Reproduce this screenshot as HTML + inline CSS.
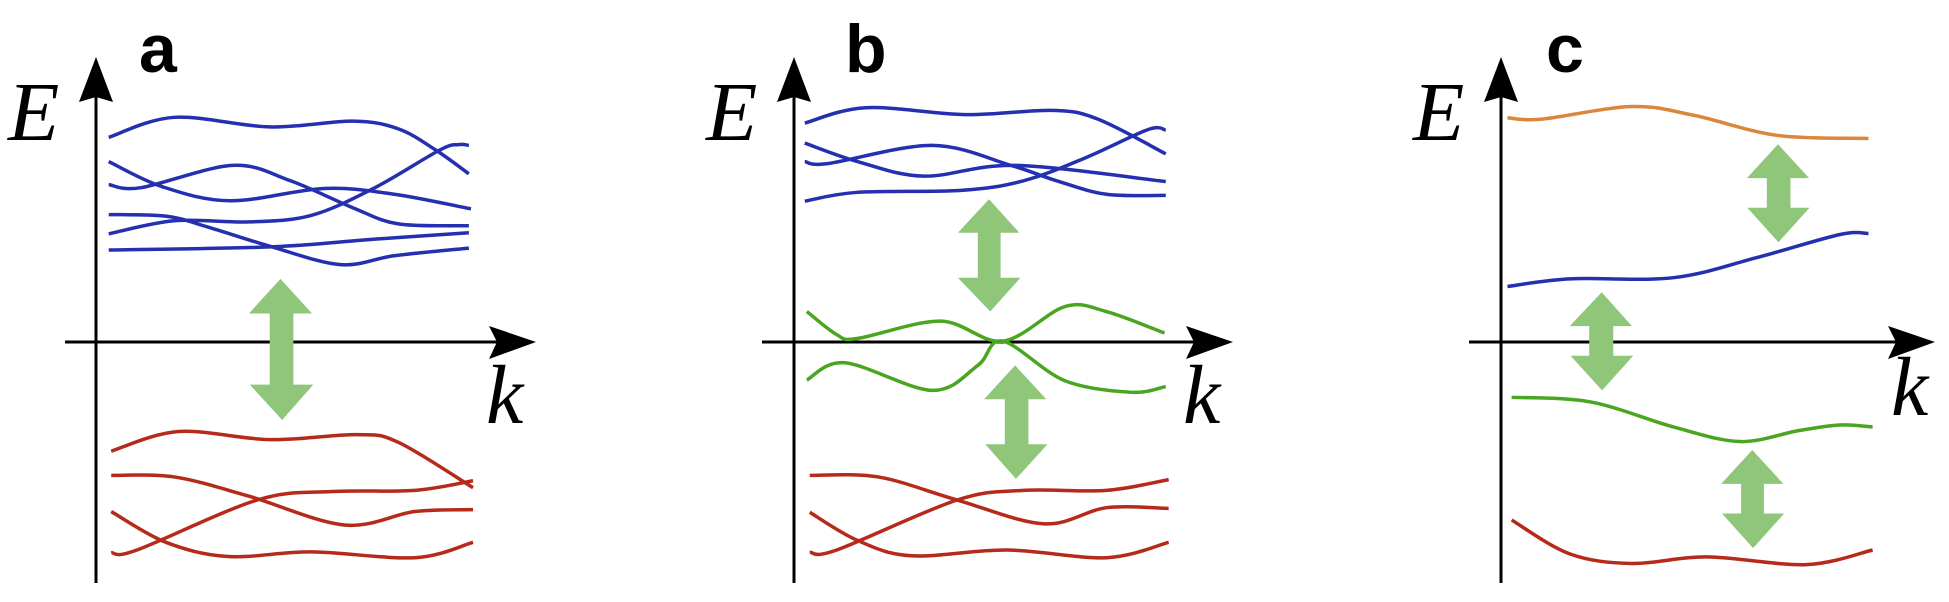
<!DOCTYPE html>
<html><head><meta charset="utf-8"><style>
html,body{margin:0;padding:0;background:#fff;}
svg{display:block;}
</style></head><body>
<svg id="s" width="1949" height="602" viewBox="0 0 1949 602" xmlns="http://www.w3.org/2000/svg">
<g fill="#000">
<line x1="96" y1="90" x2="96" y2="583" stroke="#000" stroke-width="3"/>
<polygon points="96,57 113,102 96,97 79,102"/>
<line x1="65" y1="342" x2="505" y2="342" stroke="#000" stroke-width="3"/>
<polygon points="536,342 489,359 497,342 489,326"/>
<line x1="794" y1="90" x2="794" y2="583" stroke="#000" stroke-width="3"/>
<polygon points="794,57 811,102 794,97 777,102"/>
<line x1="762" y1="342" x2="1202" y2="342" stroke="#000" stroke-width="3"/>
<polygon points="1233,342 1186,359 1194,342 1186,326"/>
<line x1="1501" y1="90" x2="1501" y2="583" stroke="#000" stroke-width="3"/>
<polygon points="1501,57 1518,102 1501,97 1484,102"/>
<line x1="1469" y1="342" x2="1904" y2="342" stroke="#000" stroke-width="3"/>
<polygon points="1935,342 1888,359 1896,342 1888,326"/>
</g>
<g font-family="'Liberation Serif',serif" font-style="italic" font-size="84" fill="#000">
<text x="8" y="140">E</text><text x="706" y="140">E</text><text x="1413" y="140">E</text>
<text x="486" y="423">k</text><text x="1183" y="423">k</text><text x="1891" y="415">k</text>
</g>
<g font-family="'Liberation Sans',sans-serif" font-weight="bold" font-size="68" fill="#000">
<text x="139" y="72">a</text><text x="845" y="72">b</text><text x="1546" y="72">c</text>
</g>
<g id="p0" transform="translate(0,0) scale(0.41494,0.38462)"></g>
<g id="p1" transform="translate(650,0) scale(0.41494,0.38462)"></g>
<g id="p2" transform="translate(1300,0) scale(0.41494,0.38462)"></g>
</svg>
<script>
var B="#2530b0",R="#b52a1a",G="#4aa520",O="#d9873a",A="#8fc67a";
var data=[
[[B,[[262,357],[420,305],[650,330],[850,315],[960,335],[1050,390],[1130,452]]],
 [B,[[262,420],[390,485],[555,522],[780,490],[950,505],[1135,543]]],
 [B,[[262,480],[340,488],[560,430],[700,470],[850,540],[960,582],[1130,587]]],
 [B,[[262,608],[420,574],[600,577],[750,560],[900,490],[1060,390],[1105,376],[1130,378]]],
 [B,[[262,558],[400,562],[500,590],[650,640],[820,688],[950,665],[1130,645]]],
 [B,[[262,650],[650,642],[900,622],[1130,605]]],
 [R,[[268,1173],[430,1122],[650,1143],[860,1130],[960,1150],[1140,1268]]],
 [R,[[268,1236],[420,1240],[600,1290],[830,1365],[1000,1330],[1140,1325]]],
 [R,[[268,1330],[400,1410],[550,1447],[750,1435],[1000,1450],[1140,1410]]],
 [R,[[268,1437],[330,1430],[620,1300],[800,1278],[1000,1275],[1140,1250]]]],
[[B,[[373,320],[520,280],[760,298],[970,287],[1080,310],[1243,400]]],
 [B,[[373,372],[500,420],[660,458],[880,430],[1243,472]]],
 [B,[[373,420],[430,425],[680,378],[870,430],[980,470],[1100,505],[1243,508]]],
 [B,[[373,523],[500,500],[750,495],[900,470],[1050,410],[1200,337],[1243,338]]],
 [G,[[378,810],[450,870],[500,880],[700,835],[850,887],[1000,797],[1100,810],[1240,866]]],
 [G,[[378,988],[470,943],[680,1015],[790,950],[850,887],[1000,990],[1160,1020],[1243,1005]]],
 [R,[[385,1236],[550,1240],[740,1300],[950,1362],[1100,1320],[1250,1322]]],
 [R,[[385,1332],[500,1405],[630,1445],[860,1430],[1100,1450],[1250,1410]]],
 [R,[[385,1436],[450,1430],[740,1300],[900,1275],[1100,1275],[1250,1247]]]],
[[O,[[500,306],[580,310],[800,277],[950,300],[1150,352],[1370,360]]],
 [B,[[500,745],[650,725],[900,722],[1100,670],[1300,610],[1370,607]]],
 [G,[[510,1033],[700,1045],[900,1110],[1060,1148],[1200,1120],[1300,1105],[1380,1110]]],
 [R,[[510,1352],[650,1440],[800,1465],[980,1448],[1220,1468],[1380,1430]]]]];
var arrows=[
 [[676,725,815,600,752,650,707,1000,602,755,680,1092]],
 [[817,518,605,742,890,790,845,722,742,893,820,810],[880,950,1038,805,955,855,912,1155,808,958,882,1245]],
 [[1152,375,463,1077,1227,1125,1182,540,1078,1228,1153,630],[727,760,848,650,800,697,755,925,652,803,728,1015],[1090,1170,1258,1015,1165,1063,1118,1335,1017,1167,1092,1425]]];
function cr(p){var d="M"+p[0][0]+","+p[0][1];for(var i=0;i<p.length-1;i++){var p0=p[i-1]||p[i],p1=p[i],p2=p[i+1],p3=p[i+2]||p2;
var c1=[p1[0]+(p2[0]-p0[0])/6,p1[1]+(p2[1]-p0[1])/6],c2=[p2[0]-(p3[0]-p1[0])/6,p2[1]-(p3[1]-p1[1])/6];
d+=" C"+c1+" "+c2+" "+p2;}return d;}
var ns="http://www.w3.org/2000/svg";
for(var k=0;k<3;k++){var g=document.getElementById("p"+k);
 arrows[k].forEach(function(a){var pts=[[a[0],a[1]],[a[4],a[2]],[a[6],a[2]],[a[6],a[7]],[a[9],a[7]],[a[10],a[11]],[a[8],a[7]],[a[5],a[7]],[a[5],a[2]],[a[3],a[2]]];
  var e=document.createElementNS(ns,"polygon");e.setAttribute("points",pts.map(function(q){return q.join(",")}).join(" "));e.setAttribute("fill",A);g.appendChild(e);});
 data[k].forEach(function(c){var e=document.createElementNS(ns,"path");e.setAttribute("d",cr(c[1]));e.setAttribute("fill","none");e.setAttribute("stroke",c[0]);e.setAttribute("stroke-width","3.5");e.setAttribute("vector-effect","non-scaling-stroke");g.appendChild(e);});
}
</script>
</body></html>
